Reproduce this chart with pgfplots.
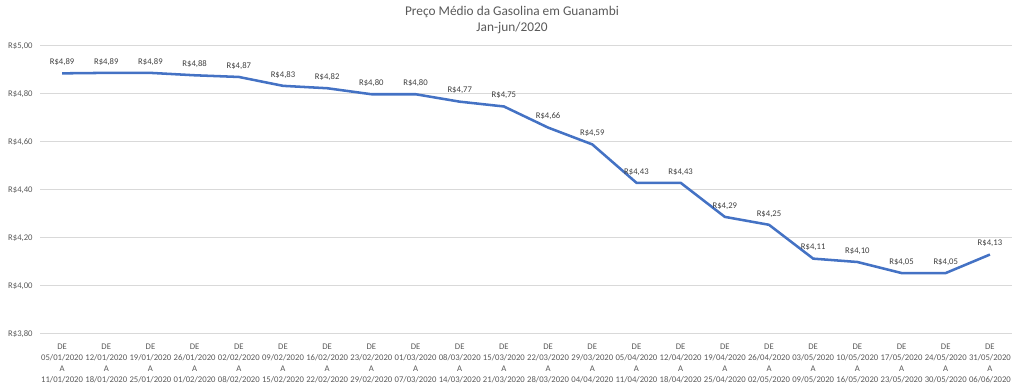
\documentclass[border=0pt]{standalone}
\usepackage{pgfplots}
\usepackage{pgfplotstable}
\usepackage{fontspec}
\setmainfont{Carlito}
\pgfplotsset{compat=1.18}
\definecolor{linecol}{HTML}{4472C4}
\definecolor{gridcol}{HTML}{D9D9D9}
\definecolor{txtcol}{HTML}{595959}
\definecolor{lblcol}{HTML}{404040}
\pgfplotstableread{
x y lbl
0 4.886 4,89
1 4.888 4,89
2 4.888 4,89
3 4.878 4,88
4 4.871 4,87
5 4.834 4,83
6 4.824 4,82
7 4.799 4,80
8 4.799 4,80
9 4.768 4,77
10 4.748 4,75
11 4.660 4,66
12 4.590 4,59
13 4.430 4,43
14 4.430 4,43
15 4.288 4,29
16 4.255 4,25
17 4.114 4,11
18 4.100 4,10
19 4.054 4,05
20 4.054 4,05
21 4.131 4,13
}\datatable
\begin{document}
\begin{tikzpicture}
\useasboundingbox (0,0) rectangle (768pt,291pt);
\node[text=txtcol, font=\fontsize{10}{12}\selectfont, align=center] at (384pt,276pt) {Preço Médio da Gasolina em Guanambi\\Jan-jun/2020};
\begin{axis}[
  at={(30pt,40.5pt)}, anchor=south west,
  scale only axis, width=729pt, height=216pt,
  xmin=-0.5, xmax=21.5,
  ymin=3.8, ymax=5.0,
  ytick={3.8,4.0,4.2,4.4,4.6,4.8,5.0},
  yticklabels={{R\$3,80},{R\$4,00},{R\$4,20},{R\$4,40},{R\$4,60},{R\$4,80},{R\$5,00}},
  xtick={0,...,21},
  xticklabels={
    {DE\\05/01/2020\\A\\11/01/2020},
    {DE\\12/01/2020\\A\\18/01/2020},
    {DE\\19/01/2020\\A\\25/01/2020},
    {DE\\26/01/2020\\A\\01/02/2020},
    {DE\\02/02/2020\\A\\08/02/2020},
    {DE\\09/02/2020\\A\\15/02/2020},
    {DE\\16/02/2020\\A\\22/02/2020},
    {DE\\23/02/2020\\A\\29/02/2020},
    {DE\\01/03/2020\\A\\07/03/2020},
    {DE\\08/03/2020\\A\\14/03/2020},
    {DE\\15/03/2020\\A\\21/03/2020},
    {DE\\22/03/2020\\A\\28/03/2020},
    {DE\\29/03/2020\\A\\04/04/2020},
    {DE\\05/04/2020\\A\\11/04/2020},
    {DE\\12/04/2020\\A\\18/04/2020},
    {DE\\19/04/2020\\A\\25/04/2020},
    {DE\\26/04/2020\\A\\02/05/2020},
    {DE\\03/05/2020\\A\\09/05/2020},
    {DE\\10/05/2020\\A\\16/05/2020},
    {DE\\17/05/2020\\A\\23/05/2020},
    {DE\\24/05/2020\\A\\30/05/2020},
    {DE\\31/05/2020\\A\\06/06/2020}},
  xticklabel style={align=center, font=\fontsize{6.5}{8.1}\selectfont, text=txtcol, anchor=north, yshift=-4pt},
  yticklabel style={font=\fontsize{6.5}{8}\selectfont, text=txtcol, anchor=east, xshift=-2pt},
  major tick length=0pt,
  axis line style={draw=none},
  ymajorgrids, grid style={gridcol, line width=0.75pt},
  clip=false,
]
\addplot[linecol, line width=1.9pt, no marks,
  nodes near coords={R\$\pgfplotspointmeta},
  point meta=explicit symbolic,
  every node near coord/.style={anchor=center, yshift=8.25pt, text=lblcol, font=\fontsize{6.5}{8}\selectfont}
] table[x=x, y=y, meta=lbl] {\datatable};
\end{axis}
\end{tikzpicture}
\end{document}
